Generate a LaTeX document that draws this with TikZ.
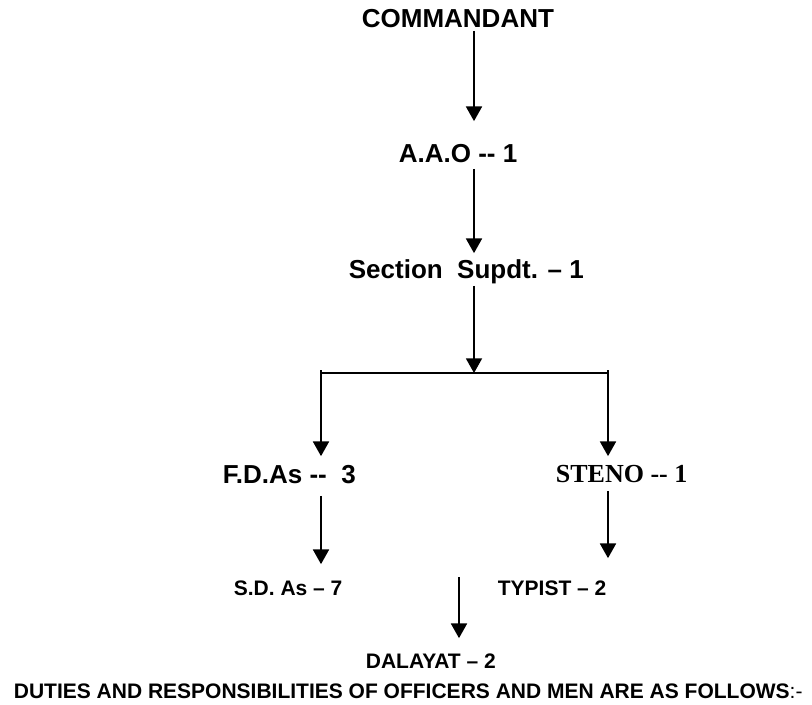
\documentclass[tikz,border=0pt]{standalone}
\usepackage{fontspec}
\setmainfont{Liberation Sans}
\newfontfamily\stenofont{Liberation Serif}
\usetikzlibrary{arrows.meta}
\tikzset{>={Triangle[width=12pt,length=11pt]}}
\tikzset{
  big/.style={font=\bfseries\fontsize{19.5}{22}\selectfont, inner sep=0pt, text height=14pt, text depth=0pt, anchor=base west},
  small/.style={font=\bfseries\fontsize{15.75}{18}\selectfont, inner sep=0pt, text height=11.25pt, text depth=0pt, anchor=base west}
}

\begin{document}
\begin{tikzpicture}[x=0.75pt, y=-0.75pt, line width=1.3pt]
      \useasboundingbox (0,0) rectangle (812,704);
      \node[big] (n0) at (361,27) {COMMANDANT};
      \node[big] (n1) at (398,162) {A.A.O -{}- 1};
      \node[big] (n2) at (348,278) {Section\ \ Supdt. – 1};
      \node[big] (n3) at (222,483) {F.D.As -{}-\ \ 3};
      \node[big, font=\stenofont\bfseries\fontsize{19.5}{22}\selectfont] (n4) at (555,482) {STENO -{}- 1};
      \node[small] (n5) at (233,595) {S.D. As – 7};
      \node[small] (n6) at (497,595) {TYPIST – 2};
      \node[small] (n7) at (365,668) {DALAYAT – 2};
      \node[small] (n8) at (13,698) {DUTIES AND RESPONSIBILITIES OF OFFICERS AND MEN ARE AS FOLLOWS{\mdseries :-}};
      \coordinate (aux0) at (474,373);
      \coordinate (aux1) at (321,370);
      \coordinate (aux2) at (608,370);
      \coordinate (aux3) at (459,577);
      \draw[->, shorten <=2.25pt, shorten >=16pt] (n0.south -| aux0) -- (n1.north -| aux0);
      \draw[->, shorten <=4.5pt, shorten >=4pt] (n1.south -| aux0) -- (n2.north -| aux0);
      \draw[->, shorten <=5.25pt] (n2.south -| aux0) -- (aux0);
      \draw (aux0 -| aux1) -- (aux0 -| aux2);
      \draw[->, shorten >=5.5pt] (aux1) -- (n3.north -| aux1);
      \draw[->, shorten >=4.75pt] (aux2) -- (n4.north -| aux2);
      \draw[->, shorten <=9pt, shorten >=11.25pt] (n3.south -| aux1) -- (n5.north -| aux1);
      \draw[->, shorten <=6pt, shorten >=15.75pt] (n4.south -| aux2) -- (n6.north -| aux2);
      \draw[->, shorten >=10.5pt] (aux3) -- (n7.north -| aux3);
\end{tikzpicture}
\end{document}
